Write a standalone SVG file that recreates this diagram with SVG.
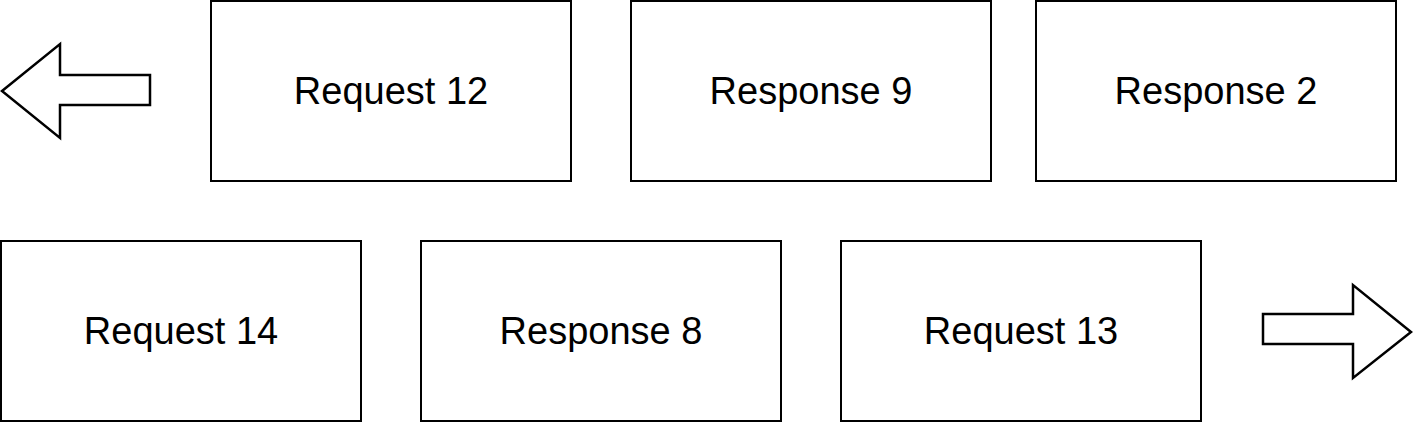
<svg xmlns="http://www.w3.org/2000/svg" width="1413" height="423" viewBox="0 0 1413 423">
<style>
.box{fill:#fff;stroke:#000;stroke-width:2}
.arr{fill:#fff;stroke:#000;stroke-width:2.5}
text{font-family:"Liberation Sans",Arial,sans-serif;font-size:38px;text-anchor:middle;fill:#000}
</style>
<rect width="1413" height="423" fill="#fff"/>
<g id="req12"><rect class="box" x="211" y="1" width="360" height="180"/><text x="391" y="104">Request 12</text></g>
<g id="resp9"><rect class="box" x="631" y="1" width="360" height="180"/><text x="811" y="104">Response 9</text></g>
<g id="resp2"><rect class="box" x="1036" y="1" width="360" height="180"/><text x="1216" y="104">Response 2</text></g>
<g id="req14"><rect class="box" x="1" y="241" width="360" height="180"/><text x="181" y="344">Request 14</text></g>
<g id="resp8"><rect class="box" x="421" y="241" width="360" height="180"/><text x="601" y="344">Response 8</text></g>
<g id="req13"><rect class="box" x="841" y="241" width="360" height="180"/><text x="1021" y="344">Request 13</text></g>
<g id="connectors">
<path class="arr" d="M2,91 L60,44 L60,75 L150,75 L150,105 L60,105 L60,138 Z"/>
<path class="arr" d="M1411,332 L1353,285 L1353,314 L1263,314 L1263,344 L1353,344 L1353,378 Z"/>
</g>
</svg>
